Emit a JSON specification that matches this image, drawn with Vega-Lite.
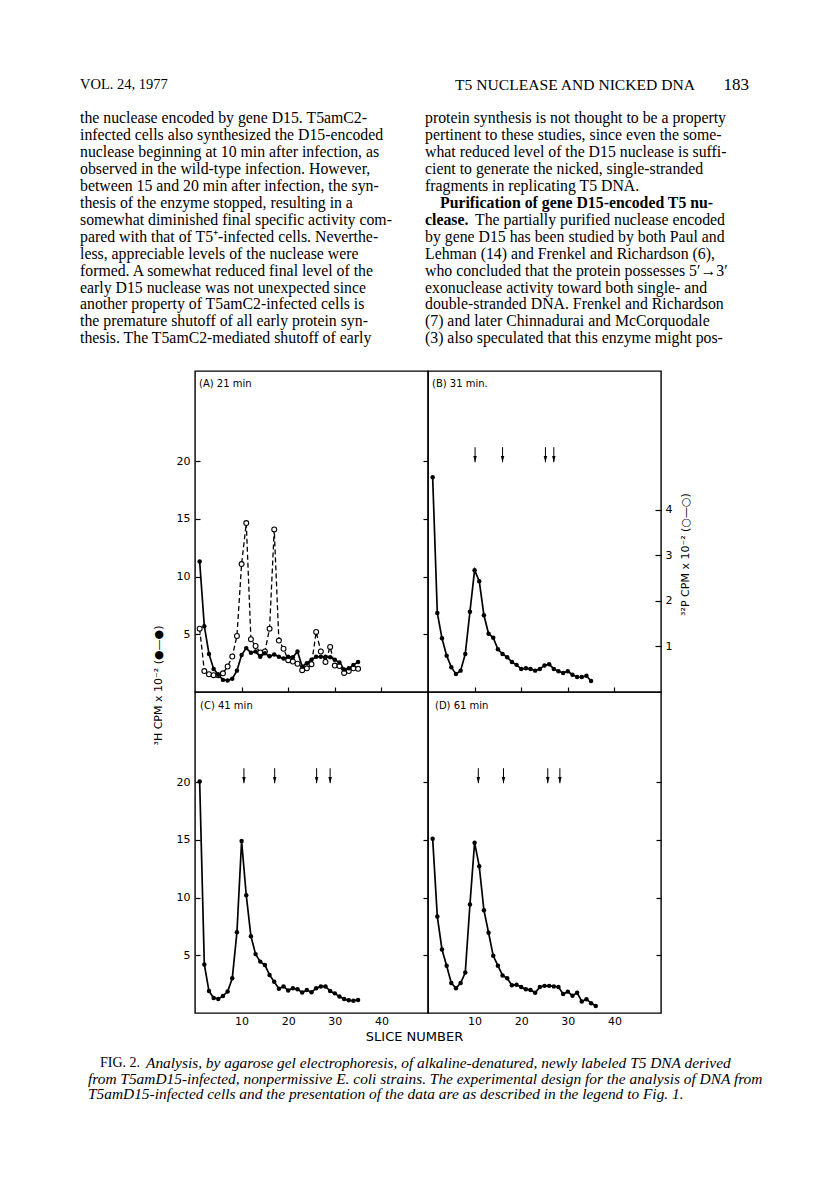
{
  "$schema": "https://vega.github.io/schema/vega-lite/v6.json",
  "padding": 0,
  "background": "white",
  "spacing": 0,
  "config": {
    "view": {"stroke": "black", "strokeWidth": 1.4},
    "axis": {"domain": false, "grid": false, "labelFont": "DejaVu Sans", "labelFontSize": 11, "labelColor": "black", "tickColor": "black", "tickWidth": 1.2, "titleFont": "DejaVu Sans", "titleFontSize": 11, "titleFontWeight": "normal", "titleColor": "black"},
    "title": {"font": "DejaVu Sans", "fontSize": 10, "fontWeight": "normal", "color": "black"},
    "text": {"color": "black"}
  },
  "datasets": {
    "h3": [
      {"panel":"A","slice":1,"cpm":11.3},{"panel":"A","slice":2,"cpm":5.7},{"panel":"A","slice":3,"cpm":3.3},{"panel":"A","slice":4,"cpm":2.0},{"panel":"A","slice":5,"cpm":1.5},{"panel":"A","slice":6,"cpm":1.05},{"panel":"A","slice":7,"cpm":1.0},{"panel":"A","slice":8,"cpm":1.15},{"panel":"A","slice":9,"cpm":1.85},{"panel":"A","slice":10,"cpm":3.2},{"panel":"A","slice":11,"cpm":3.8},{"panel":"A","slice":12,"cpm":3.4},{"panel":"A","slice":13,"cpm":3.5},{"panel":"A","slice":14,"cpm":3.05},{"panel":"A","slice":15,"cpm":3.35},{"panel":"A","slice":16,"cpm":3.1},{"panel":"A","slice":17,"cpm":3.25},{"panel":"A","slice":18,"cpm":3.05},{"panel":"A","slice":19,"cpm":2.9},{"panel":"A","slice":20,"cpm":3.05},{"panel":"A","slice":21,"cpm":3.0},{"panel":"A","slice":22,"cpm":3.5},{"panel":"A","slice":23,"cpm":2.2},{"panel":"A","slice":24,"cpm":2.5},{"panel":"A","slice":25,"cpm":2.8},{"panel":"A","slice":26,"cpm":3.05},{"panel":"A","slice":27,"cpm":3.05},{"panel":"A","slice":28,"cpm":3.05},{"panel":"A","slice":29,"cpm":3.0},{"panel":"A","slice":30,"cpm":2.8},{"panel":"A","slice":31,"cpm":2.55},{"panel":"A","slice":32,"cpm":1.95},{"panel":"A","slice":33,"cpm":2.05},{"panel":"A","slice":34,"cpm":2.35},{"panel":"A","slice":35,"cpm":2.6},
      {"panel":"B","slice":1,"cpm":18.6},{"panel":"B","slice":2,"cpm":6.85},{"panel":"B","slice":3,"cpm":4.65},{"panel":"B","slice":4,"cpm":3.15},{"panel":"B","slice":5,"cpm":2.15},{"panel":"B","slice":6,"cpm":1.55},{"panel":"B","slice":7,"cpm":1.85},{"panel":"B","slice":8,"cpm":3.3},{"panel":"B","slice":9,"cpm":6.95},{"panel":"B","slice":10,"cpm":10.55},{"panel":"B","slice":11,"cpm":9.6},{"panel":"B","slice":12,"cpm":6.65},{"panel":"B","slice":13,"cpm":5.05},{"panel":"B","slice":14,"cpm":4.7},{"panel":"B","slice":15,"cpm":3.7},{"panel":"B","slice":16,"cpm":3.3},{"panel":"B","slice":17,"cpm":3.0},{"panel":"B","slice":18,"cpm":2.6},{"panel":"B","slice":19,"cpm":2.35},{"panel":"B","slice":20,"cpm":2.0},{"panel":"B","slice":21,"cpm":2.05},{"panel":"B","slice":22,"cpm":2.0},{"panel":"B","slice":23,"cpm":1.85},{"panel":"B","slice":24,"cpm":2.0},{"panel":"B","slice":25,"cpm":2.3},{"panel":"B","slice":26,"cpm":2.4},{"panel":"B","slice":27,"cpm":2.0},{"panel":"B","slice":28,"cpm":1.8},{"panel":"B","slice":29,"cpm":1.65},{"panel":"B","slice":30,"cpm":1.8},{"panel":"B","slice":31,"cpm":1.5},{"panel":"B","slice":32,"cpm":1.3},{"panel":"B","slice":33,"cpm":1.3},{"panel":"B","slice":34,"cpm":1.4},{"panel":"B","slice":35,"cpm":0.95},
      {"panel":"C","slice":1,"cpm":20.05},{"panel":"C","slice":2,"cpm":4.2},{"panel":"C","slice":3,"cpm":1.9},{"panel":"C","slice":4,"cpm":1.3},{"panel":"C","slice":5,"cpm":1.22},{"panel":"C","slice":6,"cpm":1.48},{"panel":"C","slice":7,"cpm":1.86},{"panel":"C","slice":8,"cpm":3.0},{"panel":"C","slice":9,"cpm":7.0},{"panel":"C","slice":10,"cpm":14.9},{"panel":"C","slice":11,"cpm":10.2},{"panel":"C","slice":12,"cpm":6.65},{"panel":"C","slice":13,"cpm":5.1},{"panel":"C","slice":14,"cpm":4.45},{"panel":"C","slice":15,"cpm":4.15},{"panel":"C","slice":16,"cpm":3.3},{"panel":"C","slice":17,"cpm":2.7},{"panel":"C","slice":18,"cpm":2.1},{"panel":"C","slice":19,"cpm":2.3},{"panel":"C","slice":20,"cpm":1.95},{"panel":"C","slice":21,"cpm":2.15},{"panel":"C","slice":22,"cpm":2.05},{"panel":"C","slice":23,"cpm":1.77},{"panel":"C","slice":24,"cpm":2.0},{"panel":"C","slice":25,"cpm":1.8},{"panel":"C","slice":26,"cpm":2.15},{"panel":"C","slice":27,"cpm":2.3},{"panel":"C","slice":28,"cpm":2.3},{"panel":"C","slice":29,"cpm":1.9},{"panel":"C","slice":30,"cpm":1.7},{"panel":"C","slice":31,"cpm":1.42},{"panel":"C","slice":32,"cpm":1.22},{"panel":"C","slice":33,"cpm":1.1},{"panel":"C","slice":34,"cpm":1.07},{"panel":"C","slice":35,"cpm":1.13},
      {"panel":"D","slice":1,"cpm":15.1},{"panel":"D","slice":2,"cpm":8.35},{"panel":"D","slice":3,"cpm":5.5},{"panel":"D","slice":4,"cpm":4.1},{"panel":"D","slice":5,"cpm":2.6},{"panel":"D","slice":6,"cpm":2.15},{"panel":"D","slice":7,"cpm":2.6},{"panel":"D","slice":8,"cpm":3.5},{"panel":"D","slice":9,"cpm":9.4},{"panel":"D","slice":10,"cpm":14.75},{"panel":"D","slice":11,"cpm":12.7},{"panel":"D","slice":12,"cpm":8.9},{"panel":"D","slice":13,"cpm":6.95},{"panel":"D","slice":14,"cpm":4.95},{"panel":"D","slice":15,"cpm":4.1},{"panel":"D","slice":16,"cpm":3.25},{"panel":"D","slice":17,"cpm":3.0},{"panel":"D","slice":18,"cpm":2.4},{"panel":"D","slice":19,"cpm":2.45},{"panel":"D","slice":20,"cpm":2.25},{"panel":"D","slice":21,"cpm":2.05},{"panel":"D","slice":22,"cpm":2.0},{"panel":"D","slice":23,"cpm":1.75},{"panel":"D","slice":24,"cpm":2.25},{"panel":"D","slice":25,"cpm":2.35},{"panel":"D","slice":26,"cpm":2.35},{"panel":"D","slice":27,"cpm":2.3},{"panel":"D","slice":28,"cpm":2.25},{"panel":"D","slice":29,"cpm":1.65},{"panel":"D","slice":30,"cpm":1.85},{"panel":"D","slice":31,"cpm":1.5},{"panel":"D","slice":32,"cpm":1.75},{"panel":"D","slice":33,"cpm":1.0},{"panel":"D","slice":34,"cpm":1.2},{"panel":"D","slice":35,"cpm":0.85},{"panel":"D","slice":36,"cpm":0.6}
    ],
    "p32": [
      {"slice":1,"cpm":1.39},{"slice":2,"cpm":0.46},{"slice":3,"cpm":0.39},{"slice":4,"cpm":0.37},{"slice":5,"cpm":0.37},{"slice":6,"cpm":0.41},{"slice":7,"cpm":0.56},{"slice":8,"cpm":0.78},{"slice":9,"cpm":1.23},{"slice":10,"cpm":2.81},{"slice":11,"cpm":3.71},{"slice":12,"cpm":1.16},{"slice":13,"cpm":1.01},{"slice":14,"cpm":0.87},{"slice":15,"cpm":0.89},{"slice":16,"cpm":1.39},{"slice":17,"cpm":3.57},{"slice":18,"cpm":1.13},{"slice":19,"cpm":0.95},{"slice":20,"cpm":0.7},{"slice":21,"cpm":0.67},{"slice":22,"cpm":0.62},{"slice":23,"cpm":0.48},{"slice":24,"cpm":0.52},{"slice":25,"cpm":0.61},{"slice":26,"cpm":1.32},{"slice":27,"cpm":0.89},{"slice":28,"cpm":0.66},{"slice":29,"cpm":0.99},{"slice":30,"cpm":0.58},{"slice":31,"cpm":0.57},{"slice":32,"cpm":0.42},{"slice":33,"cpm":0.46},{"slice":34,"cpm":0.52},{"slice":35,"cpm":0.51}
    ],
    "p32axis": [{"slice":0,"cpm":0}],
    "arrows": [
      {"panel":"B","slice":10.1,"tip":19.9,"top":21.2},{"panel":"B","slice":16.0,"tip":19.9,"top":21.2},{"panel":"B","slice":25.2,"tip":19.9,"top":21.2},{"panel":"B","slice":27.0,"tip":19.9,"top":21.2},
      {"panel":"C","slice":10.5,"tip":19.9,"top":21.2},{"panel":"C","slice":17.1,"tip":19.9,"top":21.2},{"panel":"C","slice":26.1,"tip":19.9,"top":21.2},{"panel":"C","slice":29.0,"tip":19.9,"top":21.2},
      {"panel":"D","slice":10.8,"tip":19.9,"top":21.2},{"panel":"D","slice":16.2,"tip":19.9,"top":21.2},{"panel":"D","slice":25.7,"tip":19.9,"top":21.2},{"panel":"D","slice":28.3,"tip":19.9,"top":21.2}
    ],
    "header": [{"col":"L","line":-1,"t":"VOL. 24, 1977"}],
    "runningTitle": [{"col":"R","line":-1,"t":"T5 NUCLEASE AND NICKED DNA"}],
    "pageNo": [{"col":"R","line":-1,"t":"183"}],
    "body": [
      {"col":"L","line":1,"t":"the nuclease encoded by gene D15. T5amC2-"},
      {"col":"L","line":2,"t":"infected cells also synthesized the D15-encoded"},
      {"col":"L","line":3,"t":"nuclease beginning at 10 min after infection, as"},
      {"col":"L","line":4,"t":"observed in the wild-type infection. However,"},
      {"col":"L","line":5,"t":"between 15 and 20 min after infection, the syn-"},
      {"col":"L","line":6,"t":"thesis of the enzyme stopped, resulting in a"},
      {"col":"L","line":7,"t":"somewhat diminished final specific activity com-"},
      {"col":"L","line":8,"t":"pared with that of T5⁺-infected cells. Neverthe-"},
      {"col":"L","line":9,"t":"less, appreciable levels of the nuclease were"},
      {"col":"L","line":10,"t":"formed. A somewhat reduced final level of the"},
      {"col":"L","line":11,"t":"early D15 nuclease was not unexpected since"},
      {"col":"L","line":12,"t":"another property of T5amC2-infected cells is"},
      {"col":"L","line":13,"t":"the premature shutoff of all early protein syn-"},
      {"col":"L","line":14,"t":"thesis. The T5amC2-mediated shutoff of early"},
      {"col":"R","line":1,"t":"protein synthesis is not thought to be a property"},
      {"col":"R","line":2,"t":"pertinent to these studies, since even the some-"},
      {"col":"R","line":3,"t":"what reduced level of the D15 nuclease is suffi-"},
      {"col":"R","line":4,"t":"cient to generate the nicked, single-stranded"},
      {"col":"R","line":5,"t":"fragments in replicating T5 DNA."},
      {"col":"R","line":8,"t":"by gene D15 has been studied by both Paul and"},
      {"col":"R","line":9,"t":"Lehman (14) and Frenkel and Richardson (6),"},
      {"col":"R","line":10,"t":"who concluded that the protein possesses 5′→3′"},
      {"col":"R","line":11,"t":"exonuclease activity toward both single- and"},
      {"col":"R","line":12,"t":"double-stranded DNA. Frenkel and Richardson"},
      {"col":"R","line":13,"t":"(7) and later Chinnadurai and McCorquodale"},
      {"col":"R","line":14,"t":"(3) also speculated that this enzyme might pos-"}
    ],
    "boldHead": [{"col":"R","line":6,"t":"Purification of gene D15-encoded T5 nu-"}],
    "boldTail": [{"col":"R","line":7,"t":"clease."}],
    "afterBold": [{"col":"R","line":7,"t":"The partially purified nuclease encoded"}],
    "figLabel": [{"kind":"first","line":1,"t":"FIG. 2."}],
    "caption": [
      {"kind":"first","line":1,"t":"Analysis, by agarose gel electrophoresis, of alkaline-denatured, newly labeled T5 DNA derived"},
      {"kind":"cont","line":2,"t":"from T5amD15-infected, nonpermissive E. coli strains. The experimental design for the analysis of DNA from"},
      {"kind":"cont","line":3,"t":"T5amD15-infected cells and the presentation of the data are as described in the legend to Fig. 1."}
    ]
  },
  "vconcat": [
    {
      "width": 816,
      "height": 370,
      "view": {"stroke": null, "fill": "white"},
      "encoding": {
        "x": {"field": "col", "type": "nominal", "scale": {"type": "point", "domain": ["L", "R"], "range": [80, 425], "padding": 0}, "axis": null},
        "y": {"field": "line", "type": "quantitative", "scale": {"domain": [-1, 14], "range": [84.5, 338.3], "nice": false, "zero": false}, "axis": null},
        "text": {"field": "t"}
      },
      "layer": [
        {"data": {"name": "body"}, "mark": {"type": "text", "align": "left", "baseline": "middle", "font": "Liberation Serif", "fontSize": 15.8}},
        {"data": {"name": "boldHead"}, "mark": {"type": "text", "align": "left", "baseline": "middle", "font": "Liberation Serif", "fontSize": 15.8, "fontWeight": "bold", "dx": 15}},
        {"data": {"name": "boldTail"}, "mark": {"type": "text", "align": "left", "baseline": "middle", "font": "Liberation Serif", "fontSize": 15.8, "fontWeight": "bold"}},
        {"data": {"name": "afterBold"}, "mark": {"type": "text", "align": "left", "baseline": "middle", "font": "Liberation Serif", "fontSize": 15.8, "dx": 50}},
        {"data": {"name": "header"}, "mark": {"type": "text", "align": "left", "baseline": "middle", "font": "Liberation Serif", "fontSize": 14.5}},
        {"data": {"name": "runningTitle"}, "mark": {"type": "text", "align": "right", "baseline": "middle", "font": "Liberation Serif", "fontSize": 15.6, "dx": 270}},
        {"data": {"name": "pageNo"}, "mark": {"type": "text", "align": "right", "baseline": "middle", "font": "Liberation Serif", "fontSize": 17, "dx": 324}}
      ]
    },
    {
      "columns": 3,
      "spacing": 0,
      "bounds": "flush",
      "concat": [
        {
          "width": 195,
          "height": 321,
          "view": {"stroke": null, "fill": "white"},
          "data": {"values": []},
          "mark": "point",
          "encoding": {}
        },
        {
          "width": 233,
          "height": 321,
          "title": {"text": "(A) 21 min", "anchor": "start", "frame": "group", "offset": -23, "baseline": "middle", "dx": 4},
          "encoding": {
            "x": {"field": "slice", "type": "quantitative", "scale": {"domain": [0, 50], "nice": false}, "axis": {"values": [10, 20, 30, 40], "labels": false, "tickSize": -5, "title": null}}
          },
          "layer": [
            {
              "data": {"name": "h3"},
              "transform": [{"filter": "datum.panel === 'A'"}],
              "mark": {"type": "line", "color": "black", "strokeWidth": 1.7},
              "encoding": {"y": {"field": "cpm", "type": "quantitative", "scale": {"domain": [0, 27.8], "nice": false, "zero": false}, "axis": {"orient": "left", "values": [5, 10, 15, 20], "tickSize": -5, "labelPadding": 10, "title": "³H CPM x 10⁻² (●—●)", "titleAngle": -90, "titleX": -37, "titleY": 314, "titleAlign": "center", "titleBaseline": "middle"}}}
            },
            {
              "data": {"name": "p32"},
              "mark": {"type": "line", "color": "black", "strokeWidth": 1.3, "strokeDash": [5, 3]},
              "encoding": {"y": {"field": "cpm", "type": "quantitative", "scale": {"domain": [0, 7.05], "nice": false, "zero": false}, "axis": null}}
            },
            {
              "data": {"name": "p32"},
              "mark": {"type": "point", "shape": "circle", "filled": true, "fill": "white", "stroke": "black", "strokeWidth": 1.1, "size": 24, "opacity": 1},
              "encoding": {"y": {"field": "cpm", "type": "quantitative", "scale": {"domain": [0, 7.05], "nice": false, "zero": false}, "axis": null}}
            },
            {
              "data": {"name": "h3"},
              "transform": [{"filter": "datum.panel === 'A'"}],
              "mark": {"type": "point", "shape": "circle", "filled": true, "color": "black", "size": 20, "opacity": 1},
              "encoding": {"y": {"field": "cpm", "type": "quantitative", "scale": {"domain": [0, 27.8], "nice": false, "zero": false}, "axis": {"orient": "right", "values": [5, 10, 15, 20], "tickSize": -5, "labels": false, "title": null}}}
            }
          ],
          "resolve": {"scale": {"y": "independent"}, "axis": {"y": "independent"}}
        },
        {
          "width": 233,
          "height": 321,
          "title": {"text": "(B) 31 min.", "anchor": "start", "frame": "group", "offset": -23, "baseline": "middle", "dx": 4},
          "encoding": {
            "x": {"field": "slice", "type": "quantitative", "scale": {"domain": [0, 50], "nice": false}, "axis": {"values": [10, 20, 30, 40], "labels": false, "tickSize": -5, "title": null}}
          },
          "layer": [
            {
              "data": {"name": "h3"},
              "transform": [{"filter": "datum.panel === 'B'"}],
              "mark": {"type": "line", "color": "black", "strokeWidth": 1.7, "point": {"filled": true, "color": "black", "size": 20}},
              "encoding": {"y": {"field": "cpm", "type": "quantitative", "scale": {"domain": [0, 27.8], "nice": false, "zero": false}, "axis": null}}
            },
            {
              "data": {"name": "arrows"},
              "transform": [{"filter": "datum.panel === 'B'"}],
              "mark": {"type": "rule", "color": "black", "strokeWidth": 1},
              "encoding": {"y": {"field": "tip", "type": "quantitative", "scale": {"domain": [0, 27.8], "nice": false, "zero": false}, "axis": null}, "y2": {"field": "top"}}
            },
            {
              "data": {"name": "arrows"},
              "transform": [{"filter": "datum.panel === 'B'"}],
              "mark": {"type": "point", "shape": "M-0.55,-1L0.55,-1L0,1Z", "filled": true, "color": "black", "size": 40, "opacity": 1, "yOffset": -3.1},
              "encoding": {"y": {"field": "tip", "type": "quantitative", "scale": {"domain": [0, 27.8], "nice": false, "zero": false}, "axis": null}}
            },
            {
              "data": {"name": "p32axis"},
              "mark": {"type": "point", "opacity": 0},
              "encoding": {"y": {"field": "cpm", "type": "quantitative", "scale": {"domain": [0, 7.05], "nice": false, "zero": false}, "axis": {"orient": "right", "values": [1, 2, 3, 4], "tickSize": -6, "labelPadding": 10, "title": "³²P CPM x 10⁻² (○—○)", "titleAngle": 270, "titleX": 24, "titleY": 183, "titleAlign": "center", "titleBaseline": "middle"}}}
            }
          ],
          "resolve": {"scale": {"y": "independent"}, "axis": {"y": "independent"}}
        },
        {
          "width": 195,
          "height": 321,
          "view": {"stroke": null},
          "data": {"values": []},
          "mark": "point",
          "encoding": {}
        },
        {
          "width": 233,
          "height": 321,
          "title": {"text": "(C) 41 min", "anchor": "start", "frame": "group", "offset": -24, "baseline": "middle", "dx": 5},
          "encoding": {
            "x": {"field": "slice", "type": "quantitative", "scale": {"domain": [0, 50], "nice": false}, "axis": {"values": [10, 20, 30, 40], "ticks": false, "labelPadding": 2, "title": "SLICE NUMBER", "titleFontSize": 13, "titleX": 219, "titleY": 23, "titleAlign": "center", "titleBaseline": "middle"}}
          },
          "layer": [
            {
              "data": {"name": "h3"},
              "transform": [{"filter": "datum.panel === 'C'"}],
              "mark": {"type": "line", "color": "black", "strokeWidth": 1.7, "point": {"filled": true, "color": "black", "size": 20}},
              "encoding": {"y": {"field": "cpm", "type": "quantitative", "scale": {"domain": [0, 27.8], "nice": false, "zero": false}, "axis": {"orient": "left", "values": [5, 10, 15, 20], "tickSize": -5, "labelPadding": 10, "title": null}}}
            },
            {
              "data": {"name": "arrows"},
              "transform": [{"filter": "datum.panel === 'C'"}],
              "mark": {"type": "rule", "color": "black", "strokeWidth": 1},
              "encoding": {"y": {"field": "tip", "type": "quantitative", "scale": {"domain": [0, 27.8], "nice": false, "zero": false}, "axis": {"orient": "right", "values": [5, 10, 15, 20], "tickSize": -5, "labels": false, "title": null}}, "y2": {"field": "top"}}
            },
            {
              "data": {"name": "arrows"},
              "transform": [{"filter": "datum.panel === 'C'"}],
              "mark": {"type": "point", "shape": "M-0.55,-1L0.55,-1L0,1Z", "filled": true, "color": "black", "size": 40, "opacity": 1, "yOffset": -3.1},
              "encoding": {"y": {"field": "tip", "type": "quantitative", "scale": {"domain": [0, 27.8], "nice": false, "zero": false}, "axis": null}}
            }
          ],
          "resolve": {"scale": {"y": "independent"}, "axis": {"y": "independent"}}
        },
        {
          "width": 233,
          "height": 321,
          "title": {"text": "(D) 61 min", "anchor": "start", "frame": "group", "offset": -24, "baseline": "middle", "dx": 7},
          "encoding": {
            "x": {"field": "slice", "type": "quantitative", "scale": {"domain": [0, 50], "nice": false}, "axis": {"values": [10, 20, 30, 40], "ticks": false, "labelPadding": 2, "title": null}}
          },
          "layer": [
            {
              "data": {"name": "h3"},
              "transform": [{"filter": "datum.panel === 'D'"}],
              "mark": {"type": "line", "color": "black", "strokeWidth": 1.7, "point": {"filled": true, "color": "black", "size": 20}},
              "encoding": {"y": {"field": "cpm", "type": "quantitative", "scale": {"domain": [0, 27.8], "nice": false, "zero": false}, "axis": null}}
            },
            {
              "data": {"name": "arrows"},
              "transform": [{"filter": "datum.panel === 'D'"}],
              "mark": {"type": "rule", "color": "black", "strokeWidth": 1},
              "encoding": {"y": {"field": "tip", "type": "quantitative", "scale": {"domain": [0, 27.8], "nice": false, "zero": false}, "axis": {"orient": "right", "values": [5, 10, 15, 20], "tickSize": -5, "labels": false, "title": null}}, "y2": {"field": "top"}}
            },
            {
              "data": {"name": "arrows"},
              "transform": [{"filter": "datum.panel === 'D'"}],
              "mark": {"type": "point", "shape": "M-0.55,-1L0.55,-1L0,1Z", "filled": true, "color": "black", "size": 40, "opacity": 1, "yOffset": -3.1},
              "encoding": {"y": {"field": "tip", "type": "quantitative", "scale": {"domain": [0, 27.8], "nice": false, "zero": false}, "axis": null}}
            }
          ],
          "resolve": {"scale": {"y": "independent"}, "axis": {"y": "independent"}}
        }
      ]
    },
    {
      "width": 816,
      "height": 150,
      "view": {"stroke": null, "fill": "white"},
      "encoding": {
        "x": {"field": "kind", "type": "nominal", "scale": {"type": "point", "domain": ["cont", "first"], "range": [88, 100], "padding": 0}, "axis": null},
        "y": {"field": "line", "type": "quantitative", "scale": {"domain": [1, 3], "range": [19, 50], "nice": false, "zero": false}, "axis": null},
        "text": {"field": "t"}
      },
      "layer": [
        {"data": {"name": "figLabel"}, "mark": {"type": "text", "align": "left", "baseline": "middle", "font": "Liberation Serif", "fontSize": 14}},
        {"data": {"name": "caption"}, "transform": [{"filter": "datum.line === 1"}], "mark": {"type": "text", "align": "left", "baseline": "middle", "font": "Liberation Serif", "fontSize": 15.4, "fontStyle": "italic", "dx": 46}},
        {"data": {"name": "caption"}, "transform": [{"filter": "datum.line > 1"}], "mark": {"type": "text", "align": "left", "baseline": "middle", "font": "Liberation Serif", "fontSize": 15.4, "fontStyle": "italic"}}
      ]
    }
  ]
}
